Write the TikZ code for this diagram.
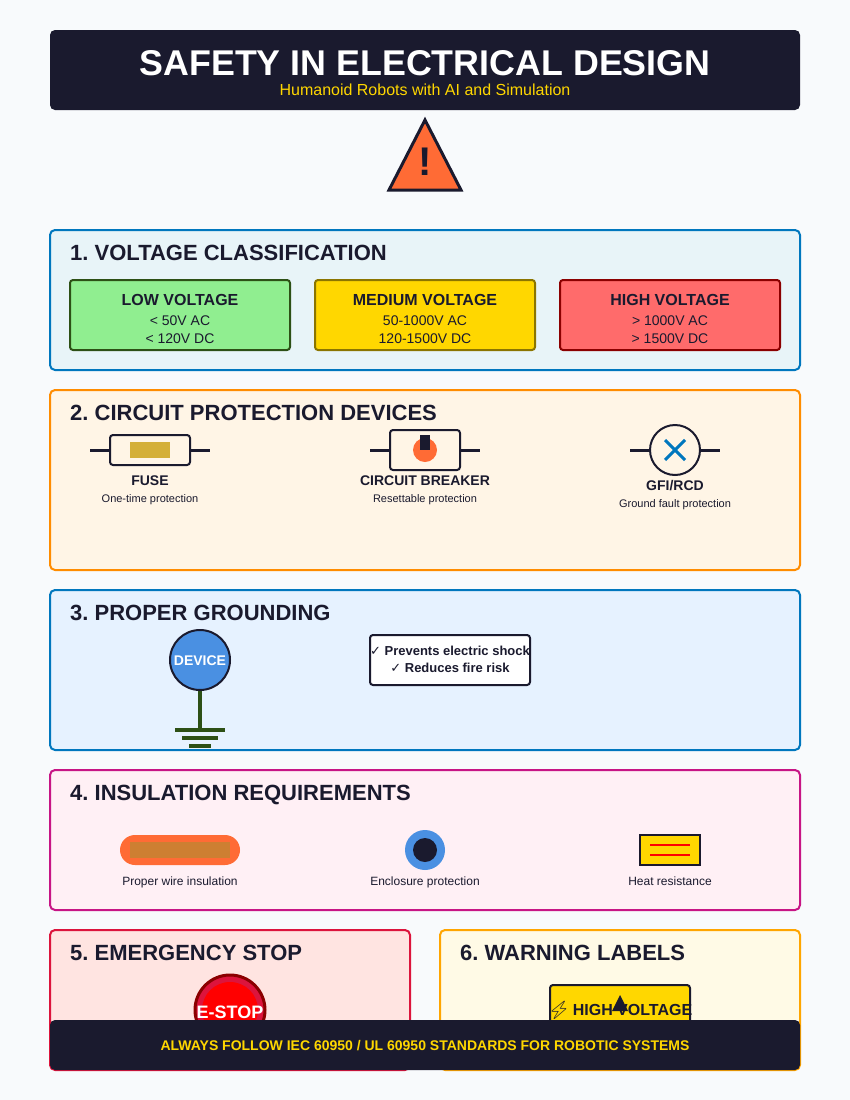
\documentclass[tikz,border=0pt]{standalone}
\usepackage{fontspec}
\setmainfont{Liberation Sans}
\newfontfamily\symfont{DejaVu Sans}
\newfontfamily\emojifont{Noto Emoji}
\frenchspacing
\definecolor{ink}{HTML}{1A1A2E}
\definecolor{pagebg}{HTML}{F8FAFC}
\definecolor{gold}{HTML}{FFD700}
\definecolor{hot}{HTML}{FF6B35}
\definecolor{sky}{HTML}{4A90E2}
\definecolor{marine}{HTML}{0077BE}
\definecolor{earth}{HTML}{2D5016}
\definecolor{lowfill}{HTML}{90EE90}
\definecolor{medline}{HTML}{8B7500}
\definecolor{highline}{HTML}{8B0000}
\definecolor{highfill}{HTML}{FF6B6B}
\definecolor{voltbg}{HTML}{E8F4F8}
\definecolor{protectline}{HTML}{FF8C00}
\definecolor{protectbg}{HTML}{FFF5E6}
\definecolor{groundbg}{HTML}{E6F2FF}
\definecolor{insulline}{HTML}{C71585}
\definecolor{insulbg}{HTML}{FFF0F5}
\definecolor{stopline}{HTML}{DC143C}
\definecolor{stopbg}{HTML}{FFE4E1}
\definecolor{labelline}{HTML}{FFA500}
\definecolor{labelbg}{HTML}{FFFAE6}
\definecolor{fusecore}{HTML}{D4AF37}
\definecolor{copper}{HTML}{CD7F32}
\tikzset{
  panel/.style={draw, rectangle, line width=2pt, rounded corners=5pt, inner sep=0pt, minimum width=#1},
  head/.style={anchor=base west, inner sep=0pt, text=ink, font=\fontsize{22}{22}\selectfont\bfseries},
  volt/.style={draw, rectangle, line width=2pt, rounded corners=3pt, minimum width=220pt, minimum height=70pt},
  bold/.style={anchor=base, inner sep=0pt, text=ink, font=\fontsize{#1}{#1}\selectfont\bfseries},
  thin/.style={anchor=base, inner sep=0pt, text=ink, font=\fontsize{#1}{#1}\selectfont},
  part/.style={draw=ink, rectangle, line width=2pt, rounded corners=3pt},
  lead/.style={draw=ink, line width=3pt},
  earthbar/.style={draw=earth, line width=4pt},
  solid fill/.style={rectangle, inner sep=0pt, fill=#1}
}
\begin{document}
\begin{tikzpicture}[x=1pt, y=-1pt]
   \path [use as bounding box, fill=pagebg] (0 , 0) rectangle (850 , 1100);

   \node [solid fill=ink, rounded corners=5pt, minimum width=750pt, minimum height=80pt] (header) at (425 , 70) {};
   \node [bold=35.8, text=white] (title) at (425 , 75) {SAFETY IN ELECTRICAL DESIGN};
   \node [thin=16, text=gold] (subtitle) at (425 , 95) {Humanoid Robots with AI and Simulation};

   \draw [fill=hot, draw=ink, line width=3pt, line join=miter] (425 , 120) -- (461 , 190) -- (389 , 190) -- cycle;
   \node [bold=40] (warn) at (425 , 175) {!};

   \node [panel=750pt, minimum height=140pt, draw=marine, fill=voltbg] (voltage) at (425 , 300) {};
   \node [head] (voltagehead) at (70 , 260) {1. VOLTAGE CLASSIFICATION};
   \node [volt, draw=earth, fill=lowfill] (low) at (180 , 315) {};
   \node [volt, draw=medline, fill=gold] (medium) at (425 , 315) {};
   \node [volt, draw=highline, fill=highfill] (high) at (670 , 315) {};
   \node [bold=16] (lowname) at (180 , 305) {LOW VOLTAGE};
   \node [thin=14] (lowac) at (180 , 325) {< 50V AC};
   \node [thin=14] (lowdc) at (180 , 343) {< 120V DC};
   \node [bold=16] (medname) at (425 , 305) {MEDIUM VOLTAGE};
   \node [thin=14] (medac) at (425 , 325) {50-1000V AC};
   \node [thin=14] (meddc) at (425 , 343) {120-1500V DC};
   \node [bold=16] (highname) at (670 , 305) {HIGH VOLTAGE};
   \node [thin=14] (highac) at (670 , 325) {> 1000V AC};
   \node [thin=14] (highdc) at (670 , 343) {> 1500V DC};

   \node [panel=750pt, minimum height=180pt, draw=protectline, fill=protectbg] (protect) at (425 , 480) {};
   \node [head] (protecthead) at (70 , 420) {2. CIRCUIT PROTECTION DEVICES};

   \coordinate (fuseleft) at (90 , 450);
   \coordinate (fuseright) at (210 , 450);
   \node [part, minimum width=80pt, minimum height=30pt] (fuse) at (150 , 450) {};
   \draw [lead] (fuseleft) -- (fuse);
   \draw [lead] (fuse) -- (fuseright);
   \node [solid fill=fusecore, minimum width=40pt, minimum height=16pt] (fusewire) at (150 , 450) {};
   \node [bold=14] (fusename) at (150 , 485) {FUSE};
   \node [thin=11] (fusenote) at (150 , 502) {One-time protection};

   \coordinate (breakleft) at (370 , 450);
   \coordinate (breakright) at (480 , 450);
   \node [part, minimum width=70pt, minimum height=40pt] (breaker) at (425 , 450) {};
   \draw [lead] (breakleft) -- (breaker);
   \draw [lead] (breaker) -- (breakright);
   \node [circle, inner sep=0pt, fill=hot, minimum size=24pt] (breakdot) at (425 , 450) {};
   \node [solid fill=ink, minimum width=10pt, minimum height=15pt] (breaklever) at (425 , 442.5) {};
   \node [bold=14] (breakname) at (425 , 485) {CIRCUIT BREAKER};
   \node [thin=11] (breaknote) at (425 , 502) {Resettable protection};

   \coordinate (gfileft) at (630 , 450);
   \coordinate (gfiright) at (720 , 450);
   \node [circle, draw=ink, line width=2pt, inner sep=0pt, minimum size=50pt] (gfi) at (675 , 450) {};
   \draw [lead] (gfileft) -- (gfi);
   \draw [lead] (gfi) -- (gfiright);
   \draw [draw=marine, line width=3pt] (665 , 440) -- (685 , 460);
   \draw [draw=marine, line width=3pt] (685 , 440) -- (665 , 460);
   \node [bold=14] (gfiname) at (675 , 490) {GFI/RCD};
   \node [thin=11] (gfinote) at (675 , 507) {Ground fault protection};

   \node [panel=750pt, minimum height=160pt, draw=marine, fill=groundbg] (ground) at (425 , 670) {};
   \node [head] (groundhead) at (70 , 620) {3. PROPER GROUNDING};
   \node [circle, draw=ink, fill=sky, line width=2pt, inner sep=0pt, minimum size=60pt] (device) at (200 , 660) {};
   \node [bold=14, text=white] (devicename) at (200 , 665) {DEVICE};
   \coordinate (earthtop) at (200 , 730);
   \draw [earthbar] (device) -- (earthtop);
   \draw [earthbar] (175 , 730) -- (225 , 730);
   \draw [earthbar] (182 , 738) -- (218 , 738);
   \draw [earthbar] (189 , 746) -- (211 , 746);
   \node [part, fill=white, minimum width=160pt, minimum height=50pt] (benefit) at (450 , 660) {};
   \node [bold=13] (shock) at (450 , 655) {{\symfont\mdseries\fontsize{13}{13}\selectfont ✓} Prevents electric shock};
   \node [bold=13] (fire) at (450 , 672) {{\symfont\mdseries\fontsize{13}{13}\selectfont ✓} Reduces fire risk};

   \node [panel=750pt, minimum height=140pt, draw=insulline, fill=insulbg] (insul) at (425 , 840) {};
   \node [head] (insulhead) at (70 , 800) {4. INSULATION REQUIREMENTS};
   \node [solid fill=hot, rounded corners=15pt, minimum width=120pt, minimum height=30pt] (wire) at (180 , 850) {};
   \node [solid fill=copper, minimum width=100pt, minimum height=16pt] (wirecore) at (180 , 850) {};
   \node [thin=12] (wirenote) at (180 , 885) {Proper wire insulation};
   \node [circle, inner sep=0pt, fill=sky, minimum size=40pt] (enclosure) at (425 , 850) {};
   \node [circle, inner sep=0pt, fill=ink, minimum size=24pt] (enclosurecore) at (425 , 850) {};
   \node [thin=12] (enclosurenote) at (425 , 885) {Enclosure protection};
   \node [rectangle, draw=ink, fill=gold, line width=2pt, inner sep=0pt, minimum width=60pt, minimum height=30pt] (heat) at (670 , 850) {};
   \draw [draw=red, line width=2pt] (650 , 845) -- (690 , 845);
   \draw [draw=red, line width=2pt] (650 , 855) -- (690 , 855);
   \node [thin=12] (heatnote) at (670 , 885) {Heat resistance};

   \node [panel=360pt, minimum height=140pt, draw=stopline, fill=stopbg] (stop) at (230 , 1000) {};
   \node [head] (stophead) at (70 , 960) {5. EMERGENCY STOP};
   \node [circle, draw=highline, fill=stopline, line width=3pt, inner sep=0pt, minimum size=70pt] (estop) at (230 , 1010) {};
   \node [circle, inner sep=0pt, fill=red, minimum size=56pt] (estopcap) at (230 , 1010) {};
   \node [bold=18, text=white] (estopname) at (230 , 1018) {E-STOP};

   \node [panel=360pt, minimum height=140pt, draw=labelline, fill=labelbg] (label) at (620 , 1000) {};
   \node [head] (labelhead) at (460 , 960) {6. WARNING LABELS};
   \node [part, fill=gold, minimum width=140pt, minimum height=50pt] (sign) at (620 , 1010) {};
   \node [thin=18, font=\emojifont\fontsize{18}{18}\selectfont] (bolt) at (559 , 1016) {⚡};
   \node [bold=16] (signname) at (632.5 , 1015) {HIGH VOLTAGE};
   \fill [ink] (620 , 995) -- (628 , 1011) -- (612 , 1011) -- cycle;

   \node [solid fill=ink, rounded corners=5pt, minimum width=750pt, minimum height=50pt] (footer) at (425 , 1045) {};
   \node [bold=14, text=gold] (footertext) at (425 , 1050) {ALWAYS FOLLOW IEC 60950 / UL 60950 STANDARDS FOR ROBOTIC SYSTEMS};
\end{tikzpicture}
\end{document}
